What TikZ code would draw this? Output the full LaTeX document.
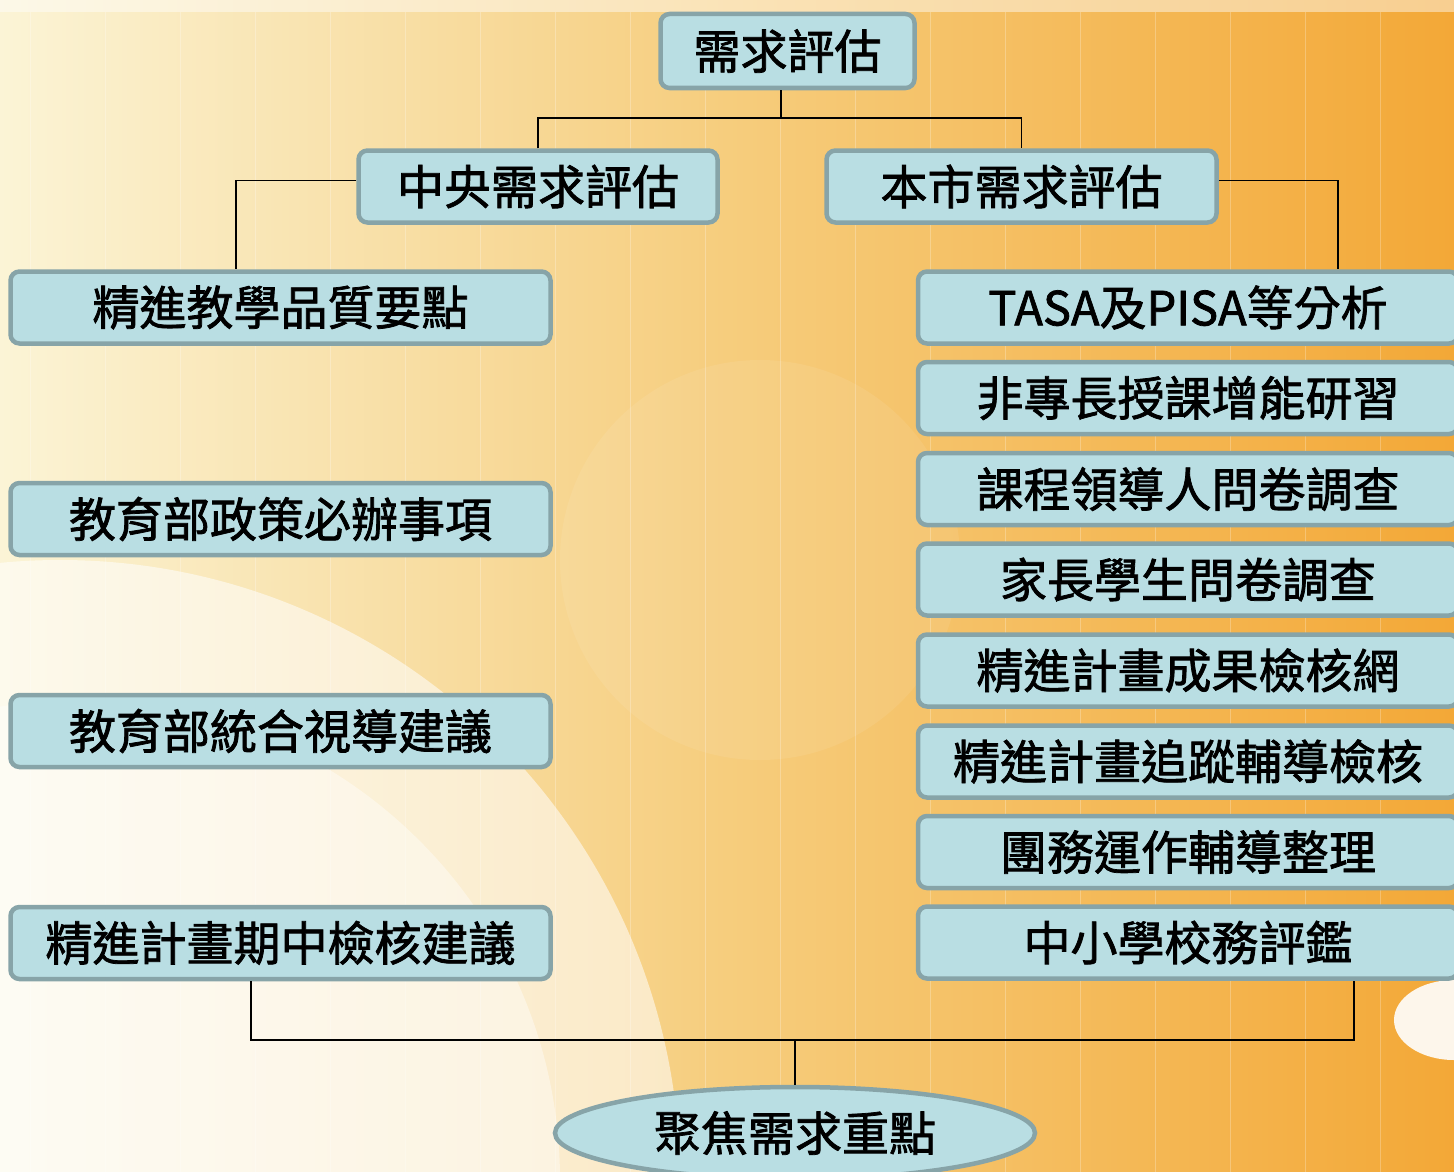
\documentclass[tikz,border=0pt]{standalone}
\usepackage{fontspec}
\newfontfamily\cjk{Noto Sans CJK TC}[FakeBold=1.6]
\usetikzlibrary{shapes.geometric}
\definecolor{boxfill}{RGB}{185,222,227}
\definecolor{boxline}{RGB}{135,164,168}
\definecolor{bgL}{RGB}{251,244,214}
\definecolor{bgM}{RGB}{246,205,125}
\definecolor{bgR}{RGB}{243,168,55}
\tikzset{
  box/.style={draw=boxline, line width=4.5pt, fill=boxfill, rounded corners=9pt,
    inner sep=0pt, minimum height=72pt, font=\cjk\fontsize{47pt}{47pt}\selectfont, text=black},
  oval/.style={draw=boxline, line width=4.5pt, fill=boxfill, ellipse,
    inner sep=0pt, font=\cjk\fontsize{47pt}{47pt}\selectfont, text=black},
  link/.style={line width=1.6pt, black}
}
\begin{document}
\begin{tikzpicture}[x=1pt,y=-1pt]
\useasboundingbox (0,0) rectangle (1454,1172);
\begin{scope}
\clip (0,0) rectangle (1454,1172);
% background
\shade[left color=bgL, right color=bgR, middle color=bgM] (0,0) rectangle (1454,1172);
\fill[white, opacity=0.45] (0,0) rectangle (1454,12);
\fill[white, opacity=0.55] (60,1180) circle (620pt);
\fill[white, opacity=0.4] (80,1180) circle (480pt);
\fill[white, opacity=0.08] (760,560) circle (200pt);
\fill[white, opacity=0.9] (1454,1020) ellipse (60pt and 40pt);
\foreach \i in {0,...,19} {
  \draw[white, opacity=0.25, line width=1pt] (\i*75+30,12) -- (\i*75+30,1172);
}
% nodes
\node[box, minimum width=254pt, minimum height=74pt] (top) at (787.5,51) {需求評估};
\node[box, minimum width=359pt] (zy) at (538,186.5) {中央需求評估};
\node[box, minimum width=390pt] (bs) at (1021.5,186.5) {本市需求評估};

\node[box, minimum width=540pt] (L1) at (280.5,307.5) {精進教學品質要點};
\node[box, minimum width=540pt] (L2) at (280.5,519) {教育部政策必辦事項};
\node[box, minimum width=540pt] (L3) at (280.5,731) {教育部統合視導建議};
\node[box, minimum width=540pt] (L4) at (280.5,943) {精進計畫期中檢核建議};

\node[box, minimum width=540pt] (R1) at (1188,307.5) {TASA及PISA等分析};
\node[box, minimum width=540pt] (R2) at (1188,398) {非專長授課增能研習};
\node[box, minimum width=540pt] (R3) at (1188,489) {課程領導人問卷調查};
\node[box, minimum width=540pt] (R4) at (1188,579.5) {家長學生問卷調查};
\node[box, minimum width=540pt] (R5) at (1188,670.5) {精進計畫成果檢核網};
\node[box, minimum width=540pt] (R6) at (1188,761.5) {精進計畫追蹤輔導檢核};
\node[box, minimum width=540pt] (R7) at (1188,852) {團務運作輔導整理};
\node[box, minimum width=540pt] (R8) at (1188,942.5) {中小學校務評鑑};

\node[oval, minimum width=480pt, minimum height=92pt] (el) at (795,1133) {聚焦需求重點};

% connectors
\coordinate (j1) at (781,118);
\coordinate (jb) at (795,1040);
\draw[link] ([xshift=-6.5pt]top.south) -- (j1);
\draw[link] (zy.north) |- (j1) -| (bs.north);
\draw[link] ([yshift=6pt]zy.west) -| ([xshift=-44.5pt]L1.north);
\draw[link] ([yshift=6pt]bs.east) -| ([xshift=150pt]R1.north);
\draw[link] ([xshift=-29.5pt]L4.south) |- (jb) -| ([xshift=166pt]R8.south);
\draw[link] (jb) -- (el.north);
\end{scope}
\end{tikzpicture}
\end{document}
